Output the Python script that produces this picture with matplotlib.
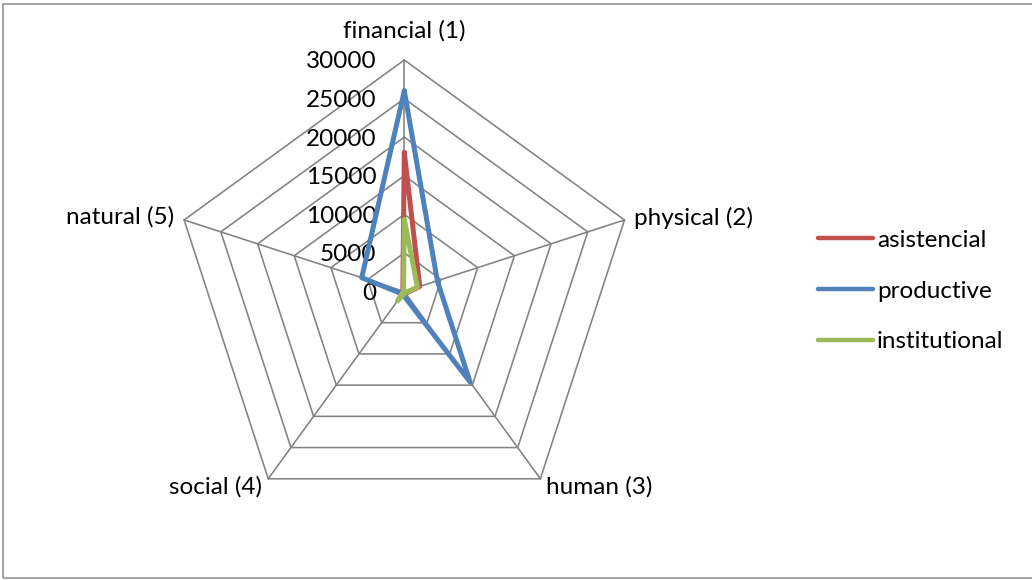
import numpy as np
import matplotlib
matplotlib.use("Agg")
import matplotlib.pyplot as plt
from matplotlib.lines import Line2D
from matplotlib.patches import Rectangle

plt.rcParams['font.family'] = ['Lato', 'DejaVu Sans']

# Capital types and their values per organisation type
categories = ['financial (1)', 'physical (2)', 'human (3)', 'social (4)', 'natural (5)']
asistencial = [18000, 2100, 300, 300, 200]
productive = [26000, 4500, 14500, 400, 5800]
institutional = [9300, 1800, 200, 1500, 100]
series_names = ['asistencial', 'productive', 'institutional']
series_colors = ['#C0504D', '#4F81BD', '#9BBB59']
ticks = [0, 5000, 10000, 15000, 20000, 25000, 30000]

W, H = 1032, 580
fig = plt.figure(figsize=(W / 100, H / 100), dpi=100)

# outer chart border (right edge falls outside the canvas)
fig.patches.append(Rectangle((2.5 / W, 2.5 / H), (W + 10) / W, (H - 6) / H,
                             transform=fig.transFigure, fill=False,
                             edgecolor='#8c8c8c', linewidth=1.1))

cx, cy, R = 404.3, 291.5, 231.5
ax = fig.add_axes([(cx - R) / W, (H - cy - R) / H, 2 * R / W, 2 * R / H],
                  projection='polar')
ax.set_theta_offset(np.pi / 2)
ax.set_theta_direction(-1)
ax.set_ylim(0, ticks[-1])
ax.set_axis_off()

n = len(categories)
theta = np.arange(n) * 2 * np.pi / n
theta_closed = np.append(theta, theta[0])

grid_color = '#828282'
for v in ticks[1:]:
    ax.plot(theta_closed, [v] * (n + 1), color=grid_color, lw=1.15,
            clip_on=False, zorder=1)
for t in theta:
    ax.plot([t, t], [0, ticks[-1]], color=grid_color, lw=1.15,
            clip_on=False, zorder=1)

fs = 17.5
for v in ticks:
    ax.annotate(f'{v}', xy=(0, v), xytext=(-28, -2), textcoords='offset pixels',
                ha='right', va='center', fontsize=fs, color='black')

label_offsets = [(0, 29, 'center'), (10, 2, 'left'), (6, -8, 'left'),
                 (-6, -8, 'right'), (-10, 3, 'right')]
for t, lab, (dx, dy, ha) in zip(theta, categories, label_offsets):
    ax.annotate(lab, xy=(t, ticks[-1]), xytext=(dx, dy), textcoords='offset pixels',
                ha=ha, va='center', fontsize=fs, color='black')

for name, vals, col in zip(series_names, [asistencial, productive, institutional],
                           series_colors):
    ax.plot(theta_closed, list(vals) + [vals[0]], color=col, lw=3.6,
            solid_joinstyle='round', solid_capstyle='round',
            clip_on=False, zorder=3, label=name)

handles = [Line2D([], [], color=c, lw=3.2, solid_capstyle='round')
           for c in series_colors]
fig.legend(handles, series_names, loc='center left',
           bbox_to_anchor=(818 / W, 1 - 291 / H), frameon=False,
           fontsize=fs, handlelength=2.26, handletextpad=0.16,
           labelspacing=1.22, borderpad=0, borderaxespad=0)

fig.savefig('out.png', dpi=100)
